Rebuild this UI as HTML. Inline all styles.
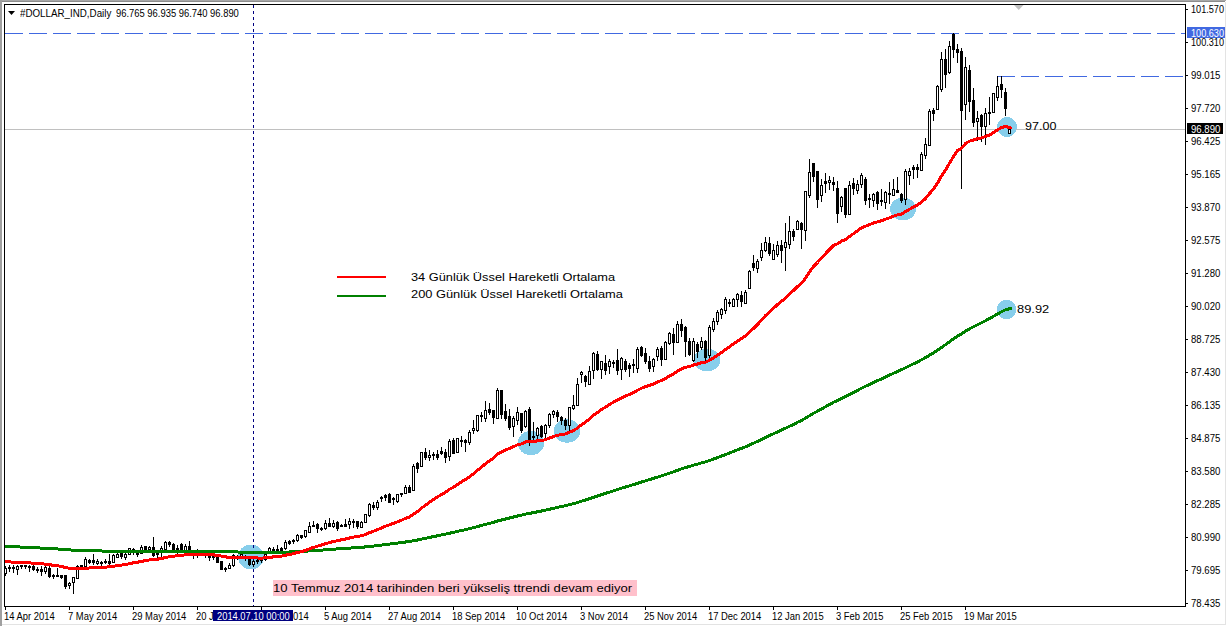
<!DOCTYPE html>
<html><head><meta charset="utf-8"><style>
html,body{margin:0;padding:0;background:#fff;width:1227px;height:626px;overflow:hidden;position:relative}
svg{position:absolute;left:0;top:0}
.t{position:absolute;font-family:"Liberation Sans",sans-serif;white-space:nowrap;color:#000;transform-origin:0 0}
</style></head><body>
<svg width="1227" height="626" viewBox="0 0 1227 626" shape-rendering="crispEdges">
<rect x="0" y="0" width="1226" height="1" fill="#a8a8a8"/><rect x="0" y="1" width="1225" height="1" fill="#8c8c8c"/>
<rect x="0" y="0" width="2" height="626" fill="#a0a0a0"/>
<rect x="1225" y="2" width="1" height="623" fill="#e3e3e3"/>
<rect x="2" y="624" width="1224" height="1" fill="#e3e3e3"/>
<defs><clipPath id="ca"><rect x="5" y="5" width="1180" height="601"/></clipPath></defs>
<g clip-path="url(#ca)">
<rect x="5" y="129" width="1180" height="1" fill="#c0c0c0"/>
<ellipse cx="251" cy="557" rx="13" ry="12.5" fill="#87ceeb"/>
<ellipse cx="531" cy="443" rx="13.3" ry="12.2" fill="#87ceeb"/>
<ellipse cx="567" cy="431" rx="13.4" ry="11.7" fill="#87ceeb"/>
<ellipse cx="707" cy="360" rx="13.4" ry="11.2" fill="#87ceeb"/>
<ellipse cx="903" cy="209" rx="13" ry="11.5" fill="#87ceeb"/>
<ellipse cx="1007" cy="127" rx="10" ry="10" fill="#87ceeb"/>
<ellipse cx="1006.5" cy="309.5" rx="9.8" ry="9.8" fill="#87ceeb"/>
<line x1="253.5" y1="5" x2="253.5" y2="606" stroke="#000080" stroke-width="1" stroke-dasharray="3 3"/>
<line x1="5" y1="33.5" x2="1185" y2="33.5" stroke="#4169e1" stroke-width="1" stroke-dasharray="18 6"/>
<line x1="997" y1="76.5" x2="1185" y2="76.5" stroke="#4169e1" stroke-width="1" stroke-dasharray="18 6"/>
<path fill="#000" d="M5 566h1v10h-1zM4 568h3v6h-3zM9 565h1v7h-1zM8 567h3v2h-3zM13 565h1v8h-1zM12 567h3v2h-3zM17 565h1v10h-1zM16 566h3v4h-3zM21 565h1v4h-1zM20 565h3v2h-3zM25 565h1v4h-1zM24 565h3v2h-3zM29 565h1v7h-1zM28 566h3v2h-3zM33 565h1v6h-1zM32 566h3v4h-3zM37 567h1v6h-1zM36 569h3v2h-3zM41 566h1v10h-1zM40 569h3v3h-3zM45 566h1v8h-1zM44 567h3v5h-3zM49 563h1v15h-1zM48 568h3v9h-3zM53 574h1v5h-1zM52 575h3v2h-3zM57 568h1v9h-1zM56 575h3v2h-3zM61 575h1v4h-1zM60 575h3v3h-3zM65 575h1v14h-1zM64 575h3v12h-3zM69 582h1v7h-1zM68 583h3v3h-3zM73 577h1v17h-1zM72 577h3v6h-3zM77 565h1v14h-1zM76 566h3v13h-3zM81 565h1v3h-1zM80 565h3v3h-3zM85 557h1v11h-1zM84 559h3v8h-3zM89 559h1v5h-1zM88 560h3v3h-3zM93 554h1v11h-1zM92 560h3v3h-3zM97 559h1v6h-1zM96 561h3v3h-3zM101 561h1v6h-1zM100 562h3v2h-3zM105 559h1v5h-1zM104 561h3v2h-3zM109 554h1v12h-1zM108 561h3v3h-3zM113 554h1v9h-1zM112 555h3v8h-3zM117 553h1v5h-1zM116 554h3v4h-3zM121 552h1v7h-1zM120 553h3v4h-3zM125 553h1v7h-1zM124 554h3v4h-3zM129 548h1v7h-1zM128 548h3v7h-3zM133 548h1v7h-1zM132 549h3v2h-3zM137 551h1v6h-1zM136 552h3v3h-3zM141 545h1v9h-1zM140 547h3v7h-3zM145 546h1v5h-1zM144 546h3v5h-3zM149 546h1v4h-1zM148 547h3v3h-3zM153 537h1v20h-1zM152 547h3v9h-3zM157 551h1v8h-1zM156 552h3v3h-3zM161 546h1v11h-1zM160 548h3v5h-3zM165 541h1v9h-1zM164 542h3v8h-3zM169 541h1v6h-1zM168 542h3v3h-3zM173 543h1v8h-1zM172 544h3v7h-3zM177 545h1v9h-1zM176 548h3v3h-3zM181 543h1v8h-1zM180 544h3v7h-3zM185 544h1v7h-1zM184 546h3v5h-3zM189 541h1v10h-1zM188 546h3v5h-3zM193 550h1v9h-1zM192 552h3v4h-3zM197 549h1v9h-1zM196 553h3v3h-3zM201 550h1v6h-1zM200 552h3v3h-3zM205 551h1v7h-1zM204 553h3v3h-3zM209 553h1v8h-1zM208 555h3v3h-3zM213 553h1v7h-1zM212 556h3v2h-3zM217 556h1v7h-1zM216 557h3v6h-3zM221 561h1v9h-1zM220 561h3v9h-3zM225 567h1v5h-1zM224 568h3v2h-3zM229 563h1v6h-1zM228 565h3v4h-3zM233 554h1v13h-1zM232 555h3v11h-3zM237 555h1v5h-1zM236 556h3v2h-3zM241 553h1v5h-1zM240 554h3v3h-3zM245 555h1v6h-1zM244 556h3v3h-3zM249 558h1v8h-1zM248 559h3v6h-3zM253 560h1v7h-1zM252 561h3v4h-3zM257 559h1v5h-1zM256 560h3v2h-3zM261 558h1v5h-1zM260 559h3v2h-3zM265 553h1v8h-1zM264 554h3v6h-3zM269 547h1v5h-1zM268 548h3v4h-3zM273 547h1v5h-1zM272 549h3v2h-3zM277 545h1v7h-1zM276 549h3v2h-3zM281 547h1v5h-1zM280 548h3v3h-3zM285 540h1v10h-1zM284 542h3v7h-3zM289 540h1v5h-1zM288 541h3v3h-3zM293 539h1v5h-1zM292 540h3v2h-3zM297 534h1v8h-1zM296 535h3v6h-3zM301 535h1v4h-1zM300 535h3v3h-3zM305 530h1v8h-1zM304 530h3v7h-3zM309 522h1v11h-1zM308 526h3v7h-3zM313 521h1v6h-1zM312 525h3v2h-3zM317 523h1v10h-1zM316 524h3v5h-3zM321 527h1v4h-1zM320 528h3v2h-3zM325 520h1v10h-1zM324 523h3v6h-3zM329 518h1v9h-1zM328 523h3v4h-3zM333 520h1v8h-1zM332 523h3v4h-3zM337 521h1v10h-1zM336 522h3v7h-3zM341 524h1v3h-1zM340 525h3v2h-3zM345 519h1v8h-1zM344 524h3v3h-3zM349 518h1v11h-1zM348 521h3v4h-3zM353 519h1v9h-1zM352 521h3v2h-3zM357 521h1v8h-1zM356 521h3v6h-3zM361 521h1v7h-1zM360 522h3v6h-3zM365 514h1v9h-1zM364 514h3v9h-3zM369 503h1v14h-1zM368 504h3v12h-3zM373 502h1v8h-1zM372 505h3v3h-3zM377 500h1v10h-1zM376 502h3v6h-3zM381 496h1v6h-1zM380 497h3v2h-3zM385 494h1v7h-1zM384 495h3v3h-3zM389 493h1v10h-1zM388 494h3v9h-3zM393 497h1v8h-1zM392 498h3v2h-3zM397 494h1v9h-1zM396 494h3v8h-3zM401 493h1v4h-1zM400 493h3v2h-3zM405 485h1v9h-1zM404 487h3v7h-3zM409 485h1v8h-1zM408 487h3v6h-3zM413 464h1v27h-1zM412 466h3v25h-3zM417 462h1v11h-1zM416 463h3v6h-3zM421 452h1v15h-1zM420 452h3v15h-3zM425 448h1v12h-1zM424 452h3v6h-3zM429 450h1v11h-1zM428 455h3v3h-3zM433 452h1v8h-1zM432 454h3v2h-3zM437 450h1v10h-1zM436 454h3v4h-3zM441 447h1v8h-1zM440 451h3v3h-3zM445 449h1v14h-1zM444 452h3v6h-3zM449 439h1v22h-1zM448 441h3v16h-3zM453 438h1v16h-1zM452 440h3v14h-3zM457 438h1v15h-1zM456 438h3v15h-3zM461 436h1v11h-1zM460 440h3v2h-3zM465 439h1v13h-1zM464 440h3v3h-3zM469 430h1v15h-1zM468 432h3v11h-3zM473 420h1v14h-1zM472 428h3v3h-3zM477 415h1v17h-1zM476 415h3v16h-3zM481 412h1v10h-1zM480 415h3v2h-3zM485 401h1v21h-1zM484 410h3v9h-3zM489 403h1v12h-1zM488 409h3v4h-3zM493 410h1v14h-1zM492 410h3v8h-3zM497 388h1v31h-1zM496 390h3v29h-3zM501 390h1v29h-1zM500 390h3v25h-3zM505 404h1v17h-1zM504 411h3v8h-3zM509 409h1v21h-1zM508 416h3v12h-3zM513 416h1v21h-1zM512 418h3v9h-3zM517 407h1v18h-1zM516 412h3v9h-3zM521 413h1v20h-1zM520 413h3v18h-3zM525 410h1v18h-1zM524 411h3v16h-3zM529 407h1v39h-1zM528 409h3v32h-3zM533 422h1v19h-1zM532 436h3v2h-3zM537 427h1v14h-1zM536 428h3v8h-3zM541 425h1v13h-1zM540 426h3v11h-3zM545 424h1v15h-1zM544 425h3v9h-3zM549 413h1v15h-1zM548 414h3v12h-3zM553 410h1v8h-1zM552 411h3v4h-3zM557 410h1v12h-1zM556 412h3v5h-3zM561 416h1v9h-1zM560 417h3v4h-3zM565 418h1v12h-1zM564 420h3v6h-3zM569 407h1v24h-1zM568 407h3v19h-3zM573 395h1v15h-1zM572 405h3v4h-3zM577 378h1v28h-1zM576 384h3v22h-3zM581 371h1v12h-1zM580 372h3v3h-3zM585 375h1v12h-1zM584 376h3v6h-3zM589 366h1v19h-1zM588 371h3v14h-3zM593 352h1v27h-1zM592 353h3v18h-3zM597 351h1v20h-1zM596 354h3v16h-3zM601 361h1v18h-1zM600 361h3v9h-3zM605 355h1v20h-1zM604 363h3v8h-3zM609 359h1v15h-1zM608 361h3v6h-3zM613 360h1v8h-1zM612 362h3v2h-3zM617 349h1v26h-1zM616 360h3v11h-3zM621 357h1v23h-1zM620 358h3v12h-3zM625 359h1v13h-1zM624 361h3v9h-3zM629 363h1v14h-1zM628 365h3v4h-3zM633 359h1v14h-1zM632 364h3v2h-3zM637 347h1v26h-1zM636 349h3v20h-3zM641 346h1v11h-1zM640 347h3v9h-3zM645 348h1v16h-1zM644 353h3v9h-3zM649 356h1v16h-1zM648 361h3v8h-3zM653 358h1v14h-1zM652 359h3v8h-3zM657 347h1v14h-1zM656 349h3v8h-3zM661 346h1v20h-1zM660 348h3v12h-3zM665 341h1v19h-1zM664 342h3v18h-3zM669 332h1v13h-1zM668 333h3v11h-3zM673 328h1v27h-1zM672 334h3v9h-3zM677 321h1v22h-1zM676 324h3v19h-3zM681 319h1v18h-1zM680 324h3v7h-3zM685 326h1v31h-1zM684 327h3v15h-3zM689 338h1v18h-1zM688 341h3v14h-3zM693 338h1v24h-1zM692 341h3v20h-3zM697 342h1v16h-1zM696 344h3v8h-3zM701 337h1v13h-1zM700 341h3v7h-3zM705 340h1v22h-1zM704 341h3v17h-3zM709 325h1v33h-1zM708 327h3v29h-3zM713 318h1v14h-1zM712 321h3v9h-3zM717 310h1v15h-1zM716 312h3v10h-3zM721 308h1v11h-1zM720 309h3v6h-3zM725 297h1v17h-1zM724 299h3v12h-3zM729 299h1v8h-1zM728 302h3v2h-3zM733 298h1v9h-1zM732 299h3v8h-3zM737 293h1v14h-1zM736 294h3v6h-3zM741 291h1v16h-1zM740 295h3v7h-3zM745 290h1v14h-1zM744 292h3v12h-3zM749 270h1v19h-1zM748 271h3v18h-3zM753 255h1v16h-1zM752 263h3v5h-3zM757 259h1v14h-1zM756 261h3v8h-3zM761 243h1v18h-1zM760 250h3v8h-3zM765 237h1v15h-1zM764 242h3v9h-3zM769 237h1v19h-1zM768 243h3v11h-3zM773 244h1v16h-1zM772 250h3v10h-3zM777 241h1v16h-1zM776 245h3v10h-3zM781 240h1v23h-1zM780 245h3v6h-3zM785 223h1v48h-1zM784 242h3v6h-3zM789 216h1v33h-1zM788 231h3v14h-3zM793 229h1v12h-1zM792 231h3v6h-3zM797 220h1v10h-1zM796 221h3v9h-3zM801 222h1v27h-1zM800 223h3v7h-3zM805 191h1v50h-1zM804 191h3v40h-3zM809 159h1v39h-1zM808 172h3v24h-3zM813 163h1v19h-1zM812 163h3v14h-3zM817 171h1v37h-1zM816 171h3v29h-3zM821 179h1v23h-1zM820 185h3v11h-3zM825 173h1v20h-1zM824 181h3v3h-3zM829 176h1v14h-1zM828 180h3v3h-3zM833 177h1v14h-1zM832 182h3v3h-3zM837 181h1v42h-1zM836 188h3v26h-3zM841 196h1v16h-1zM840 197h3v10h-3zM845 188h1v30h-1zM844 188h3v27h-3zM849 181h1v34h-1zM848 185h3v30h-3zM853 178h1v17h-1zM852 183h3v6h-3zM857 180h1v14h-1zM856 184h3v7h-3zM861 173h1v15h-1zM860 175h3v10h-3zM865 177h1v28h-1zM864 179h3v22h-3zM869 194h1v14h-1zM868 198h3v2h-3zM873 193h1v14h-1zM872 194h3v7h-3zM877 191h1v19h-1zM876 192h3v12h-3zM881 189h1v17h-1zM880 200h3v2h-3zM885 191h1v18h-1zM884 192h3v11h-3zM889 182h1v22h-1zM888 193h3v2h-3zM893 179h1v17h-1zM892 189h3v7h-3zM897 177h1v16h-1zM896 190h3v3h-3zM901 193h1v10h-1zM900 194h3v7h-3zM905 169h1v36h-1zM904 171h3v29h-3zM909 168h1v17h-1zM908 171h3v5h-3zM913 165h1v14h-1zM912 167h3v3h-3zM917 164h1v14h-1zM916 167h3v3h-3zM921 152h1v19h-1zM920 154h3v17h-3zM925 138h1v21h-1zM924 144h3v12h-3zM929 109h1v37h-1zM928 111h3v35h-3zM933 108h1v13h-1zM932 110h3v4h-3zM937 85h1v25h-1zM936 86h3v24h-3zM941 52h1v40h-1zM940 59h3v31h-3zM945 49h1v39h-1zM944 59h3v16h-3zM949 41h1v33h-1zM948 46h3v27h-3zM953 33h1v25h-1zM952 34h3v16h-3zM957 44h1v19h-1zM956 49h3v4h-3zM961 48h1v141h-1zM960 51h3v60h-3zM965 57h1v63h-1zM964 67h3v38h-3zM969 65h1v47h-1zM968 70h3v32h-3zM973 88h1v39h-1zM972 100h3v23h-3zM977 111h1v30h-1zM976 118h3v4h-3zM981 114h1v28h-1zM980 115h3v12h-3zM985 108h1v37h-1zM984 113h3v14h-3zM989 97h1v28h-1zM988 112h3v2h-3zM993 93h1v20h-1zM992 93h3v20h-3zM997 76h1v25h-1zM996 86h3v12h-3zM1001 76h1v22h-1zM1000 84h3v6h-3zM1005 88h1v28h-1zM1004 92h3v17h-3zM1009 129h1v5h-1zM1008 129h3v5h-3z"/>
<path fill="#fff" d="M5 569h1v4h-1zM17 567h1v2h-1zM45 568h1v3h-1zM69 584h1v1h-1zM73 578h1v4h-1zM77 567h1v11h-1zM85 560h1v6h-1zM97 562h1v1h-1zM113 556h1v6h-1zM117 555h1v2h-1zM125 555h1v2h-1zM129 549h1v5h-1zM141 548h1v5h-1zM149 548h1v1h-1zM161 549h1v3h-1zM165 543h1v6h-1zM185 547h1v3h-1zM229 566h1v2h-1zM233 556h1v9h-1zM241 555h1v1h-1zM253 562h1v2h-1zM265 555h1v4h-1zM269 549h1v2h-1zM285 543h1v5h-1zM297 536h1v4h-1zM305 531h1v5h-1zM309 527h1v5h-1zM325 524h1v4h-1zM333 524h1v2h-1zM349 522h1v2h-1zM361 523h1v4h-1zM365 515h1v7h-1zM369 505h1v10h-1zM377 503h1v4h-1zM397 495h1v6h-1zM405 488h1v5h-1zM413 467h1v23h-1zM421 453h1v13h-1zM429 456h1v1h-1zM449 442h1v14h-1zM457 439h1v13h-1zM469 433h1v9h-1zM473 429h1v1h-1zM477 416h1v14h-1zM485 411h1v7h-1zM497 391h1v27h-1zM513 419h1v7h-1zM517 413h1v7h-1zM525 412h1v14h-1zM537 429h1v6h-1zM545 426h1v7h-1zM549 415h1v10h-1zM553 412h1v2h-1zM569 408h1v17h-1zM573 406h1v2h-1zM577 385h1v20h-1zM581 373h1v1h-1zM589 372h1v12h-1zM593 354h1v16h-1zM601 362h1v7h-1zM609 362h1v4h-1zM621 359h1v10h-1zM637 350h1v18h-1zM653 360h1v6h-1zM657 350h1v6h-1zM665 343h1v16h-1zM669 334h1v9h-1zM677 325h1v17h-1zM693 342h1v18h-1zM701 342h1v5h-1zM709 328h1v27h-1zM713 322h1v7h-1zM717 313h1v8h-1zM721 310h1v4h-1zM725 300h1v10h-1zM733 300h1v6h-1zM737 295h1v4h-1zM745 293h1v10h-1zM749 272h1v16h-1zM757 262h1v6h-1zM761 251h1v6h-1zM765 243h1v7h-1zM773 251h1v8h-1zM777 246h1v8h-1zM785 243h1v4h-1zM789 232h1v12h-1zM797 222h1v7h-1zM805 192h1v38h-1zM809 173h1v22h-1zM821 186h1v9h-1zM829 181h1v1h-1zM841 198h1v8h-1zM849 186h1v28h-1zM857 185h1v5h-1zM861 176h1v8h-1zM873 195h1v5h-1zM885 193h1v9h-1zM893 190h1v5h-1zM905 172h1v27h-1zM909 172h1v3h-1zM921 155h1v15h-1zM925 145h1v10h-1zM929 112h1v33h-1zM937 87h1v22h-1zM941 60h1v29h-1zM949 47h1v25h-1zM965 68h1v36h-1zM977 119h1v2h-1zM985 114h1v12h-1zM993 94h1v18h-1zM997 87h1v10h-1zM1009 130h1v3h-1z"/>
<polyline points="5.5,546.2 9.5,546.5 13.5,546.7 17.5,546.9 21.5,547.1 25.5,547.3 29.5,547.5 33.5,547.7 37.5,547.9 41.5,548.1 45.5,548.3 49.5,548.6 53.5,548.9 57.5,549.0 61.5,549.3 65.5,549.7 69.5,549.9 73.5,550.2 77.5,550.4 81.5,550.5 85.5,550.6 89.5,550.7 93.5,550.8 97.5,550.9 101.5,551.0 105.5,551.1 109.5,551.3 113.5,551.3 117.5,551.3 121.5,551.4 125.5,551.4 129.5,551.4 133.5,551.4 137.5,551.4 141.5,551.4 145.5,551.4 149.5,551.3 153.5,551.4 157.5,551.4 161.5,551.3 165.5,551.2 169.5,551.2 173.5,551.2 177.5,551.1 181.5,551.1 185.5,551.1 189.5,551.1 193.5,551.1 197.5,551.1 201.5,551.2 205.5,551.2 209.5,551.2 213.5,551.3 217.5,551.4 221.5,551.6 225.5,551.7 229.5,551.9 233.5,551.9 237.5,552.0 241.5,552.0 245.5,552.0 249.5,552.2 253.5,552.2 257.5,552.3 261.5,552.4 265.5,552.4 269.5,552.3 273.5,552.3 277.5,552.3 281.5,552.2 285.5,552.1 289.5,552.0 293.5,551.8 297.5,551.7 301.5,551.5 305.5,551.2 309.5,550.9 313.5,550.6 317.5,550.4 321.5,550.1 325.5,549.8 329.5,549.5 333.5,549.2 337.5,548.9 341.5,548.7 345.5,548.4 349.5,548.1 353.5,547.8 357.5,547.6 361.5,547.3 365.5,546.9 369.5,546.5 373.5,546.1 377.5,545.6 381.5,545.1 385.5,544.6 389.5,544.1 393.5,543.7 397.5,543.1 401.5,542.6 405.5,542.0 409.5,541.5 413.5,540.7 417.5,540.0 421.5,539.1 425.5,538.3 429.5,537.4 433.5,536.6 437.5,535.8 441.5,534.9 445.5,534.1 449.5,533.2 453.5,532.4 457.5,531.4 461.5,530.5 465.5,529.7 469.5,528.7 473.5,527.7 477.5,526.6 481.5,525.5 485.5,524.4 489.5,523.3 493.5,522.3 497.5,521.0 501.5,520.0 505.5,519.0 509.5,518.0 513.5,517.0 517.5,516.0 521.5,515.1 525.5,514.1 529.5,513.4 533.5,512.6 537.5,511.8 541.5,511.0 545.5,510.2 549.5,509.2 553.5,508.3 557.5,507.3 561.5,506.5 565.5,505.7 569.5,504.7 573.5,503.7 577.5,502.5 581.5,501.2 585.5,500.0 589.5,498.7 593.5,497.3 597.5,496.0 601.5,494.7 605.5,493.4 609.5,492.1 613.5,490.8 617.5,489.6 621.5,488.2 625.5,487.0 629.5,485.8 633.5,484.6 637.5,483.3 641.5,482.0 645.5,480.8 649.5,479.6 653.5,478.4 657.5,477.1 661.5,475.9 665.5,474.6 669.5,473.2 673.5,471.8 677.5,470.3 681.5,468.9 685.5,467.6 689.5,466.5 693.5,465.2 697.5,464.1 701.5,462.9 705.5,461.8 709.5,460.5 713.5,459.1 717.5,457.6 721.5,456.1 725.5,454.5 729.5,453.0 733.5,451.5 737.5,449.9 741.5,448.3 745.5,446.8 749.5,445.0 753.5,443.2 757.5,441.4 761.5,439.5 765.5,437.5 769.5,435.6 773.5,433.8 777.5,431.9 781.5,430.1 785.5,428.2 789.5,426.3 793.5,424.4 797.5,422.3 801.5,420.4 805.5,418.2 809.5,415.7 813.5,413.3 817.5,411.2 821.5,409.0 825.5,406.7 829.5,404.5 833.5,402.3 837.5,400.4 841.5,398.4 845.5,396.6 849.5,394.5 853.5,392.4 857.5,390.4 861.5,388.2 865.5,386.3 869.5,384.4 873.5,382.5 877.5,380.7 881.5,378.9 885.5,377.0 889.5,375.1 893.5,373.3 897.5,371.5 901.5,369.7 905.5,367.8 909.5,365.8 913.5,363.8 917.5,361.9 921.5,359.8 925.5,357.6 929.5,355.2 933.5,352.8 937.5,350.2 941.5,347.4 945.5,344.7 949.5,341.7 953.5,338.8 957.5,336.0 961.5,333.8 965.5,331.1 969.5,328.8 973.5,326.8 977.5,324.7 981.5,322.8 985.5,320.7 989.5,318.6 993.5,316.3 997.5,314.0 1001.5,311.7 1005.5,309.7 1010.5,308.6" fill="none" stroke="#008000" stroke-width="3" stroke-linejoin="round" stroke-linecap="round" shape-rendering="crispEdges"/>
<polyline points="5.5,561.7 9.5,561.9 13.5,562.2 17.5,562.4 21.5,562.5 25.5,562.7 29.5,562.9 33.5,563.2 37.5,563.5 41.5,563.9 45.5,564.1 49.5,564.7 53.5,565.3 57.5,565.8 61.5,566.4 65.5,567.5 69.5,568.4 73.5,568.9 77.5,568.8 81.5,568.8 85.5,568.3 89.5,568.0 93.5,567.8 97.5,567.5 101.5,567.3 105.5,567.1 109.5,566.9 113.5,566.3 117.5,565.6 121.5,565.1 125.5,564.5 129.5,563.6 133.5,562.8 137.5,562.2 141.5,561.3 145.5,560.7 149.5,559.9 153.5,559.5 157.5,559.2 161.5,558.5 165.5,557.5 169.5,556.6 173.5,556.2 177.5,555.7 181.5,555.4 185.5,554.8 189.5,554.5 193.5,554.5 197.5,554.5 201.5,554.5 205.5,554.6 209.5,554.7 213.5,554.9 217.5,555.3 221.5,556.1 225.5,556.9 229.5,557.3 233.5,557.2 237.5,557.2 241.5,557.1 245.5,557.1 249.5,557.5 253.5,557.8 257.5,558.0 261.5,558.1 265.5,557.9 269.5,557.3 273.5,556.9 277.5,556.5 281.5,556.1 285.5,555.2 289.5,554.5 293.5,553.6 297.5,552.5 301.5,551.6 305.5,550.3 309.5,548.8 313.5,547.4 317.5,546.2 321.5,545.1 325.5,543.7 329.5,542.6 333.5,541.4 337.5,540.7 341.5,539.8 345.5,539.0 349.5,538.0 353.5,537.1 357.5,536.5 361.5,535.7 365.5,534.5 369.5,532.7 373.5,531.3 377.5,529.7 381.5,527.9 385.5,526.2 389.5,524.8 393.5,523.4 397.5,521.8 401.5,520.2 405.5,518.4 409.5,517.0 413.5,514.1 417.5,511.5 421.5,508.1 425.5,505.2 429.5,502.3 433.5,499.5 437.5,497.0 441.5,494.5 445.5,492.3 449.5,489.3 453.5,487.2 457.5,484.4 461.5,481.8 465.5,479.5 469.5,476.7 473.5,473.8 477.5,470.3 481.5,467.1 485.5,463.8 489.5,460.7 493.5,458.2 497.5,454.2 501.5,451.9 505.5,449.9 509.5,448.5 513.5,446.7 517.5,444.7 521.5,443.9 525.5,442.0 529.5,441.9 533.5,441.6 537.5,440.8 541.5,440.5 545.5,439.6 549.5,438.1 553.5,436.5 557.5,435.3 561.5,434.4 565.5,433.9 569.5,432.3 573.5,430.7 577.5,428.0 581.5,424.7 585.5,422.1 589.5,419.1 593.5,415.3 597.5,412.5 601.5,409.5 605.5,407.2 609.5,404.5 613.5,402.1 617.5,400.2 621.5,397.8 625.5,396.1 629.5,394.4 633.5,392.7 637.5,390.2 641.5,388.2 645.5,386.6 649.5,385.5 653.5,383.9 657.5,381.9 661.5,380.5 665.5,378.4 669.5,375.9 673.5,374.0 677.5,371.2 681.5,368.8 685.5,367.3 689.5,366.5 693.5,365.0 697.5,364.1 701.5,362.7 705.5,362.3 709.5,360.2 713.5,357.9 717.5,355.3 721.5,352.6 725.5,349.5 729.5,346.8 733.5,343.9 737.5,341.0 741.5,338.6 745.5,335.9 749.5,332.2 753.5,328.4 757.5,324.5 761.5,320.2 765.5,315.6 769.5,312.0 773.5,308.3 777.5,304.6 781.5,301.4 785.5,297.9 789.5,293.9 793.5,290.5 797.5,286.6 801.5,283.4 805.5,278.1 809.5,272.0 813.5,266.4 817.5,262.5 821.5,258.0 825.5,253.7 829.5,249.4 833.5,245.6 837.5,243.7 841.5,241.1 845.5,239.5 849.5,236.4 853.5,233.7 857.5,230.9 861.5,227.7 865.5,226.2 869.5,224.6 873.5,222.9 877.5,221.8 881.5,220.7 885.5,219.2 889.5,217.8 893.5,216.2 897.5,214.9 901.5,214.1 905.5,211.6 909.5,209.3 913.5,207.1 917.5,204.9 921.5,202.0 925.5,198.6 929.5,193.6 933.5,189.0 937.5,183.1 941.5,176.0 945.5,170.1 949.5,163.1 953.5,156.6 957.5,150.6 961.5,148.3 965.5,143.6 969.5,141.1 973.5,140.0 977.5,138.6 981.5,137.9 985.5,136.4 989.5,135.1 993.5,132.6 997.5,129.9 1001.5,127.6 1005.5,126.5 1011.0,128.0" fill="none" stroke="#ff0000" stroke-width="3" stroke-linejoin="round" stroke-linecap="round" shape-rendering="crispEdges"/>
<rect x="337" y="276" width="49" height="2" fill="#ff0000"/>
<rect x="337" y="295" width="49" height="2" fill="#008000"/>
<rect x="273" y="580" width="364" height="16" fill="#ffc0cb"/>
<path d="M8 11h7l-3.5 4z" fill="#000" shape-rendering="auto"/>
<path d="M1014 5h9.5l-4.75 5z" fill="#c0c0c0" shape-rendering="auto"/>
</g>
<rect x="4.5" y="4.5" width="1181" height="602" fill="none" stroke="#000" stroke-width="1"/>
<rect x="1186" y="9" width="2" height="1" fill="#000"/>
<rect x="1186" y="42" width="2" height="1" fill="#000"/>
<rect x="1186" y="75" width="2" height="1" fill="#000"/>
<rect x="1186" y="108" width="2" height="1" fill="#000"/>
<rect x="1186" y="141" width="2" height="1" fill="#000"/>
<rect x="1186" y="174" width="2" height="1" fill="#000"/>
<rect x="1186" y="207" width="2" height="1" fill="#000"/>
<rect x="1186" y="240" width="2" height="1" fill="#000"/>
<rect x="1186" y="273" width="2" height="1" fill="#000"/>
<rect x="1186" y="306" width="2" height="1" fill="#000"/>
<rect x="1186" y="339" width="2" height="1" fill="#000"/>
<rect x="1186" y="372" width="2" height="1" fill="#000"/>
<rect x="1186" y="405" width="2" height="1" fill="#000"/>
<rect x="1186" y="438" width="2" height="1" fill="#000"/>
<rect x="1186" y="471" width="2" height="1" fill="#000"/>
<rect x="1186" y="504" width="2" height="1" fill="#000"/>
<rect x="1186" y="537" width="2" height="1" fill="#000"/>
<rect x="1186" y="570" width="2" height="1" fill="#000"/>
<rect x="1186" y="603" width="2" height="1" fill="#000"/>
<rect x="5" y="607" width="1" height="3" fill="#000"/>
<rect x="69" y="607" width="1" height="3" fill="#000"/>
<rect x="133" y="607" width="1" height="3" fill="#000"/>
<rect x="197" y="607" width="1" height="3" fill="#000"/>
<rect x="261" y="607" width="1" height="3" fill="#000"/>
<rect x="325" y="607" width="1" height="3" fill="#000"/>
<rect x="389" y="607" width="1" height="3" fill="#000"/>
<rect x="453" y="607" width="1" height="3" fill="#000"/>
<rect x="517" y="607" width="1" height="3" fill="#000"/>
<rect x="581" y="607" width="1" height="3" fill="#000"/>
<rect x="645" y="607" width="1" height="3" fill="#000"/>
<rect x="709" y="607" width="1" height="3" fill="#000"/>
<rect x="773" y="607" width="1" height="3" fill="#000"/>
<rect x="837" y="607" width="1" height="3" fill="#000"/>
<rect x="901" y="607" width="1" height="3" fill="#000"/>
<rect x="965" y="607" width="1" height="3" fill="#000"/>
<rect x="1187" y="27" width="38" height="11" fill="#4169e1"/>
<rect x="1187" y="123" width="36" height="11" fill="#000"/>
</svg>
<div class="t" style="left:1191px;top:5px;font-size:10px;line-height:10px;transform:scaleX(0.914);color:#000;">101.570</div><div class="t" style="left:1191px;top:38px;font-size:10px;line-height:10px;transform:scaleX(0.914);color:#000;">100.310</div><div class="t" style="left:1191px;top:71px;font-size:10px;line-height:10px;transform:scaleX(0.96);color:#000;">99.015</div><div class="t" style="left:1191px;top:104px;font-size:10px;line-height:10px;transform:scaleX(0.96);color:#000;">97.720</div><div class="t" style="left:1191px;top:137px;font-size:10px;line-height:10px;transform:scaleX(0.96);color:#000;">96.425</div><div class="t" style="left:1191px;top:170px;font-size:10px;line-height:10px;transform:scaleX(0.96);color:#000;">95.165</div><div class="t" style="left:1191px;top:203px;font-size:10px;line-height:10px;transform:scaleX(0.96);color:#000;">93.870</div><div class="t" style="left:1191px;top:236px;font-size:10px;line-height:10px;transform:scaleX(0.96);color:#000;">92.575</div><div class="t" style="left:1191px;top:269px;font-size:10px;line-height:10px;transform:scaleX(0.96);color:#000;">91.280</div><div class="t" style="left:1191px;top:302px;font-size:10px;line-height:10px;transform:scaleX(0.96);color:#000;">90.020</div><div class="t" style="left:1191px;top:335px;font-size:10px;line-height:10px;transform:scaleX(0.96);color:#000;">88.725</div><div class="t" style="left:1191px;top:368px;font-size:10px;line-height:10px;transform:scaleX(0.96);color:#000;">87.430</div><div class="t" style="left:1191px;top:401px;font-size:10px;line-height:10px;transform:scaleX(0.96);color:#000;">86.135</div><div class="t" style="left:1191px;top:434px;font-size:10px;line-height:10px;transform:scaleX(0.96);color:#000;">84.875</div><div class="t" style="left:1191px;top:467px;font-size:10px;line-height:10px;transform:scaleX(0.96);color:#000;">83.580</div><div class="t" style="left:1191px;top:500px;font-size:10px;line-height:10px;transform:scaleX(0.96);color:#000;">82.285</div><div class="t" style="left:1191px;top:533px;font-size:10px;line-height:10px;transform:scaleX(0.96);color:#000;">80.990</div><div class="t" style="left:1191px;top:566px;font-size:10px;line-height:10px;transform:scaleX(0.96);color:#000;">79.695</div><div class="t" style="left:1191px;top:599px;font-size:10px;line-height:10px;transform:scaleX(0.96);color:#000;">78.435</div><div class="t" style="left:1191px;top:29px;font-size:10px;line-height:10px;transform:scaleX(0.914);color:#fff;">100.630</div><div class="t" style="left:1191px;top:125px;font-size:10px;line-height:10px;transform:scaleX(0.96);color:#fff;">96.890</div><div class="t" style="left:4px;top:612px;font-size:10px;line-height:10px;transform:scaleX(0.94);color:#000;">14 Apr 2014</div><div class="t" style="left:68px;top:612px;font-size:10px;line-height:10px;transform:scaleX(0.94);color:#000;">7 May 2014</div><div class="t" style="left:132px;top:612px;font-size:10px;line-height:10px;transform:scaleX(0.94);color:#000;">29 May 2014</div><div class="t" style="left:196px;top:612px;font-size:10px;line-height:10px;transform:scaleX(0.94);color:#000;">20 Jun 2014</div><div class="t" style="left:260px;top:612px;font-size:10px;line-height:10px;transform:scaleX(0.94);color:#000;">14 Jul 2014</div><div class="t" style="left:324px;top:612px;font-size:10px;line-height:10px;transform:scaleX(0.94);color:#000;">5 Aug 2014</div><div class="t" style="left:388px;top:612px;font-size:10px;line-height:10px;transform:scaleX(0.94);color:#000;">27 Aug 2014</div><div class="t" style="left:452px;top:612px;font-size:10px;line-height:10px;transform:scaleX(0.94);color:#000;">18 Sep 2014</div><div class="t" style="left:516px;top:612px;font-size:10px;line-height:10px;transform:scaleX(0.94);color:#000;">10 Oct 2014</div><div class="t" style="left:580px;top:612px;font-size:10px;line-height:10px;transform:scaleX(0.94);color:#000;">3 Nov 2014</div><div class="t" style="left:644px;top:612px;font-size:10px;line-height:10px;transform:scaleX(0.94);color:#000;">25 Nov 2014</div><div class="t" style="left:708px;top:612px;font-size:10px;line-height:10px;transform:scaleX(0.94);color:#000;">17 Dec 2014</div><div class="t" style="left:772px;top:612px;font-size:10px;line-height:10px;transform:scaleX(0.94);color:#000;">12 Jan 2015</div><div class="t" style="left:836px;top:612px;font-size:10px;line-height:10px;transform:scaleX(0.94);color:#000;">3 Feb 2015</div><div class="t" style="left:900px;top:612px;font-size:10px;line-height:10px;transform:scaleX(0.94);color:#000;">25 Feb 2015</div><div class="t" style="left:964px;top:612px;font-size:10px;line-height:10px;transform:scaleX(0.94);color:#000;">19 Mar 2015</div><div style="position:absolute;left:213px;top:610px;width:80px;height:11px;background:#000080"></div><div class="t" style="left:217px;top:612px;font-size:10px;line-height:10px;transform:scaleX(0.934);color:#fff;">2014.07.10 00:00</div><div class="t" style="left:20px;top:9px;font-size:10px;line-height:10px;transform:scaleX(0.978);color:#000;">#DOLLAR_IND,Daily</div><div class="t" style="left:116px;top:9px;font-size:10px;line-height:10px;transform:scaleX(0.94);color:#000;">96.765 96.935 96.740 96.890</div><div class="t" style="left:411px;top:272px;font-size:11px;line-height:11px;transform:scaleX(1.163);color:#000;">34 Günlük Üssel Hareketli Ortalama</div><div class="t" style="left:411px;top:289px;font-size:11px;line-height:11px;transform:scaleX(1.167);color:#000;">200 Günlük Üssel Hareketli Ortalama</div><div class="t" style="left:273px;top:583px;font-size:11px;line-height:11px;transform:scaleX(1.19);color:#000;">10 Temmuz 2014 tarihinden beri yükseliş ttrendi devam ediyor</div><div class="t" style="left:1025px;top:121px;font-size:11px;line-height:11px;transform:scaleX(1.14);color:#000;">97.00</div><div class="t" style="left:1017px;top:304px;font-size:11px;line-height:11px;transform:scaleX(1.17);color:#000;">89.92</div>
</body></html>
